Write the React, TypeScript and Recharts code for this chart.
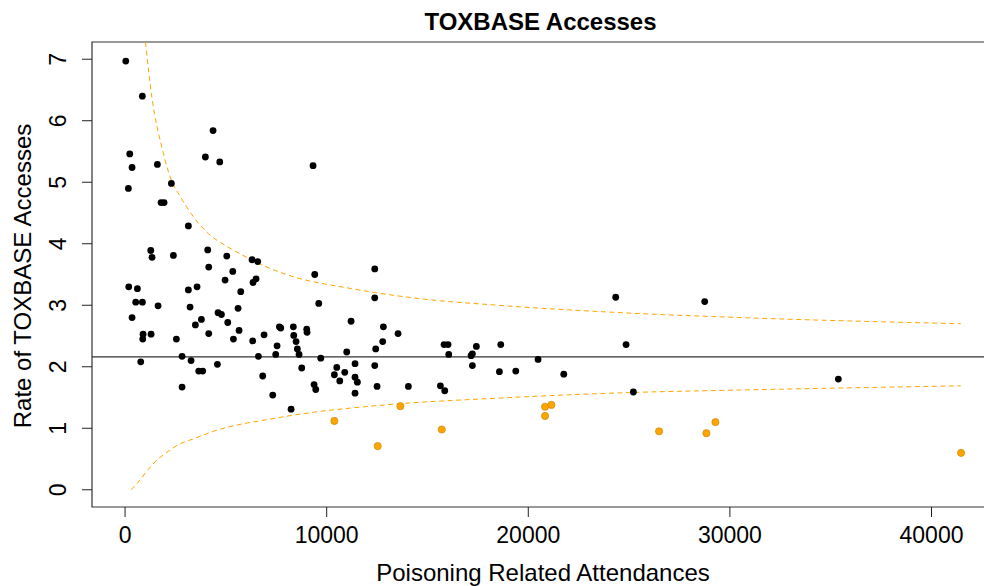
import React from "react";
import {
  ComposedChart,
  Scatter,
  Line,
  XAxis,
  YAxis,
  ReferenceLine,
  ReferenceArea,
} from "recharts";

// attendances / rates for trusts inside the limits (black)
const insideAttendances = [
  35, 858, 4365, 233, 3983, 4697, 347, 1602, 164, 2297, 1786, 1935,
  3141, 1275, 1339, 2397, 4100, 5044, 4150, 5341, 6299, 6580, 4960, 6349,
  6498, 182, 612, 3141, 3571, 5738, 529, 860, 1637, 3224, 5605, 347,
  4613, 4779, 3786, 3488, 5093, 893, 877, 1290, 2546, 4150, 5655, 5374,
  6332, 6894, 7655, 7722, 7540, 7473, 6614, 2827, 777, 3273, 4580,
  3654, 3852, 2827, 6828, 7325, 8235,
  9325, 12384, 9408, 9607, 12384, 11210, 8347, 9011, 12813,
  9027, 8367, 8482, 8546, 8630, 8763, 9706, 13540, 12780, 12433, 10995,
  11407, 12384, 10500, 10382, 10897, 10649, 11407, 11523, 9375, 9458,
  11407, 12499, 14052, 15822, 16020, 16055, 17425, 17162, 17228, 17228,
  15641, 15857, 18634, 18568,
  24337, 28751, 24850, 20485, 19379, 21760, 25213, 35380,
];
const insideRates = [
  6.97, 6.4, 5.84, 5.46, 5.41, 5.33, 5.24, 5.29, 4.9, 4.98, 4.67, 4.67,
  4.29, 3.89, 3.78, 3.81, 3.9, 3.8, 3.62, 3.55, 3.74, 3.71, 3.41, 3.37,
  3.43, 3.3, 3.27, 3.25, 3.3, 3.22, 3.05, 3.05, 2.99, 2.97, 2.95, 2.8,
  2.88, 2.85, 2.77, 2.68, 2.72, 2.53, 2.45, 2.53, 2.45, 2.54, 2.59, 2.45,
  2.42, 2.52, 2.65, 2.63, 2.34, 2.2, 2.17, 2.17, 2.08, 2.1, 2.04,
  1.93, 1.93, 1.67, 1.85, 1.54, 1.31,
  5.27, 3.59, 3.5, 3.03, 3.12, 2.74, 2.65, 2.61, 2.65,
  2.56, 2.51, 2.41, 2.29, 2.2, 1.98, 2.14, 2.54, 2.41, 2.29, 2.24,
  2.05, 2.02, 1.99, 1.87, 1.91, 1.77, 1.83, 1.75, 1.71, 1.63,
  1.57, 1.68, 1.68, 2.36, 2.36, 2.2, 2.33, 2.18, 2.21, 2.02,
  1.69, 1.61, 2.36, 1.92,
  3.13, 3.06, 2.36, 2.12, 1.93, 1.88, 1.59, 1.8,
];

// trusts below the lower limit (orange)
const belowAttendances = [10382, 13655, 12532, 15708, 20832, 21146, 20832, 26487, 28835, 29282, 41466];
const belowRates = [1.12, 1.36, 0.71, 0.98, 1.35, 1.38, 1.2, 0.95, 0.92, 1.1, 0.6];

// funnel limits
const upperAttendances = [1010, 1340, 1840, 2300, 2700, 3320, 4150, 4980, 5800, 6630, 8000, 11240, 14550, 18500, 24550, 30500, 41450];
const upperRates = [7.28, 6.36, 5.55, 5.03, 4.79, 4.47, 4.16, 3.97, 3.82, 3.68, 3.5, 3.27, 3.11, 3.0, 2.88, 2.8, 2.7];
const lowerAttendances = [297, 561, 843, 1091, 1389, 1671, 2000, 2331, 2744, 3323, 4563, 5803, 7043, 8283, 12896, 18518, 24966, 30256, 41450];
const lowerRates = [0, 0.09, 0.2, 0.31, 0.42, 0.51, 0.59, 0.67, 0.75, 0.82, 0.97, 1.07, 1.14, 1.21, 1.38, 1.49, 1.58, 1.62, 1.69];

const targetRate = 2.16;

const xTicks = [0, 10000, 20000, 30000, 40000];
const yTicks = [0, 1, 2, 3, 4, 5, 6, 7];

const xDomain = [-1640, 43100];
const yDomain = [-0.28, 7.28];

const zip = (xs: number[], ys: number[]) => xs.map((x, i) => ({ x, y: ys[i] }));

const insideData = zip(insideAttendances, insideRates);
const belowData = zip(belowAttendances, belowRates);
const upperData = zip(upperAttendances, upperRates);
const lowerData = zip(lowerAttendances, lowerRates);

const FONT = "'Liberation Sans', Arial, Helvetica, sans-serif";

const XTick = (props: any) => {
  const { x, y, payload } = props;
  return (
    <text x={x} y={y} dy={24} textAnchor="middle" fontSize={23} fontFamily={FONT} fill="#000">
      {payload.value}
    </text>
  );
};

const YTick = (props: any) => {
  const { x, y, payload } = props;
  const tx = x - 14;
  return (
    <text
      x={tx}
      y={y}
      transform={`rotate(-90, ${tx}, ${y})`}
      textAnchor="middle"
      fontSize={23}
      fontFamily={FONT}
      fill="#000"
    >
      {payload.value}
    </text>
  );
};

const BlackDot = (props: any) => <circle cx={props.cx} cy={props.cy} r={3.4} fill="#000" />;
const OrangeDot = (props: any) => (
  <circle cx={props.cx} cy={props.cy} r={3.6} fill="#FFA500" stroke="#C98A10" strokeWidth={0.7} />
);

export default function App() {
  return (
    <div style={{ position: "fixed", left: 0, top: 0, width: 984, height: 586, overflow: "hidden", background: "#fff" }}>
      <div
        style={{
          position: "absolute",
          left: 0,
          top: 10,
          width: 1081,
          textAlign: "center",
          fontFamily: FONT,
          fontWeight: "bold",
          fontSize: 24,
          lineHeight: "24px",
          color: "#000",
        }}
      >
        TOXBASE Accesses
      </div>
      <ComposedChart width={1000} height={586} margin={{ top: 42, right: 6, bottom: 0, left: 0 }}>
        <XAxis
          type="number"
          dataKey="x"
          domain={xDomain}
          ticks={xTicks}
          interval={0}
          allowDataOverflow
          axisLine={false}
          tickSize={10}
          tickLine={{ stroke: "#222" }}
          tick={<XTick />}
          height={79}
          label={() => (
            <text x={543} y={581} textAnchor="middle" fontSize={24} fontFamily={FONT} fill="#000">
              Poisoning Related Attendances
            </text>
          )}
        />
        <YAxis
          type="number"
          dataKey="y"
          domain={yDomain}
          ticks={yTicks}
          interval={0}
          allowDataOverflow
          axisLine={false}
          tickSize={10}
          tickLine={{ stroke: "#222" }}
          tick={<YTick />}
          width={92}
          label={() => (
            <text
              x={31}
              y={276}
              transform="rotate(-90, 31, 276)"
              textAnchor="middle"
              fontSize={24}
              fontFamily={FONT}
              fill="#000"
            >
              Rate of TOXBASE Accesses
            </text>
          )}
        />
        <ReferenceArea
          x1={xDomain[0]}
          x2={xDomain[1]}
          y1={yDomain[0]}
          y2={yDomain[1]}
          fill="none"
          fillOpacity={0}
          stroke="#333"
          strokeWidth={1.2}
        />
        <Line
          data={upperData}
          dataKey="y"
          type="monotone"
          stroke="#FFA500"
          strokeWidth={1}
          strokeDasharray="5 3.5"
          dot={false}
          activeDot={false}
          isAnimationActive={false}
        />
        <Line
          data={lowerData}
          dataKey="y"
          type="monotone"
          stroke="#FFA500"
          strokeWidth={1}
          strokeDasharray="5 3.5"
          dot={false}
          activeDot={false}
          isAnimationActive={false}
        />
        <ReferenceLine y={targetRate} stroke="#333" strokeWidth={1.2} />
        <Scatter data={insideData} dataKey="y" shape={<BlackDot />} isAnimationActive={false} />
        <Scatter data={belowData} dataKey="y" shape={<OrangeDot />} isAnimationActive={false} />
      </ComposedChart>
    </div>
  );
}
